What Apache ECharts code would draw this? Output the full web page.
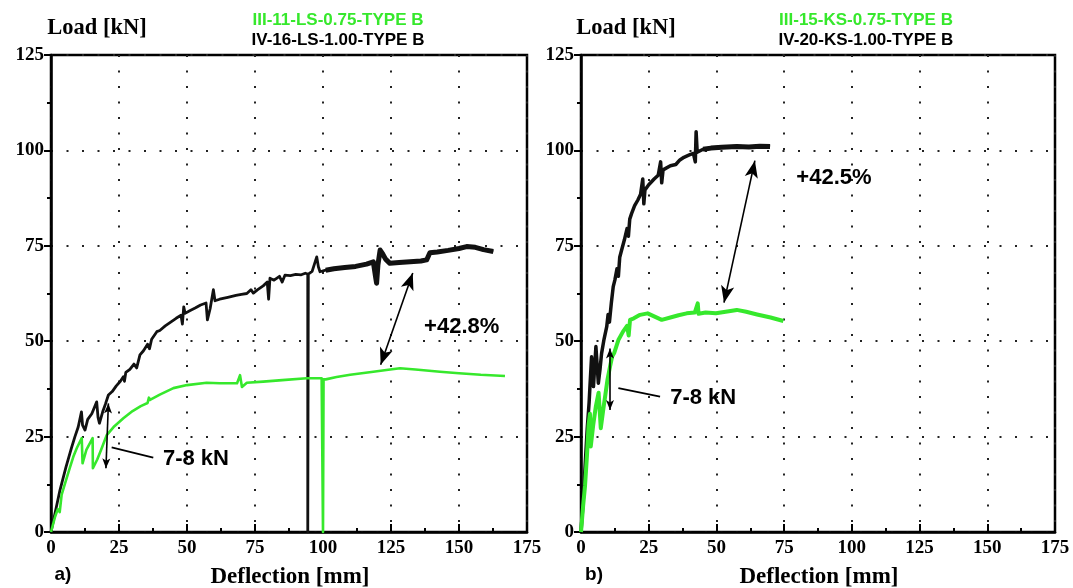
<!DOCTYPE html>
<html>
<head>
<meta charset="utf-8">
<script src="https://cdn.jsdelivr.net/npm/echarts@6/dist/echarts.min.js"></script>
<style>
  html, body { margin: 0; padding: 0; background: #fff; }
  #chart { width: 1073px; height: 588px; }
</style>
</head>
<body>
<div id="chart"></div>
<script>
// Load–deflection curves, [deflection mm, load kN]
const seriesNamesA = ['III-11-LS-0.75-TYPE B', 'IV-16-LS-1.00-TYPE B'];
const seriesNamesB = ['III-15-KS-0.75-TYPE B', 'IV-20-KS-1.00-TYPE B'];

const iv16 = [[0,0],[1.5,5],[3.3,11],[5.5,17],[7.5,22],[8.8,25],[10,27.5],[11.2,31.5],[11.6,28],[12.5,26.7],[13.5,29.5],[15,31],[16.8,34.1],[17.3,30],[17.8,28.5],[19,31.5],[20,33.5],[21.1,35.9],[22.5,36.8],[24,38.3],[25.5,39.5],[26.6,40.7],[27,39.5],[27.5,41.8],[29,42.6],[30.5,44],[31.5,43],[32.7,46.4],[34,47.5],[35.5,49.2],[36.2,48],[37,50.5],[38.9,52.5],[40,52.8],[42,54],[44,55],[46,56],[47.8,56.8],[48.3,54.5],[48.8,59],[49.3,57.3],[51,58],[53,58.7],[55,59.5],[57,60],[57.5,55.6],[58.5,58.5],[59.7,63.5],[60.3,60.6],[62,61],[65,61.5],[68,62],[70,62.3],[72,62.5],[73.5,63.5],[74.4,62.6],[76,63.5],[78,64.5],[79.5,65.5],[80,61],[80.5,66.5],[82,66],[84,67],[85,65.5],[86,67.3],[88,67.2],[90,67.5],[92,67.4],[93.5,67.8],[94.4,67.6],[94.4,0],[94.6,67.6],[96,68.3],[97.2,71],[97.7,72.1],[98.3,69.5],[98.9,68.2],[101,68.6],[104,69],[108,69.3],[112,69.6],[116,70.2],[118.5,70.8],[119.3,67],[119.7,65.2],[120.2,70],[121,73.9],[122,72.8],[123,71.5],[124.6,70.4],[128,70.6],[132,70.8],[136,71],[138.1,71.3],[139.3,73.2],[142,73.4],[146,73.8],[150,74.3],[152.8,74.8],[156,74.6],[159,74],[162.6,73.5]];

const iii11 = [[0,0],[1.5,4],[2.5,6],[3.2,5.2],[3.9,9.7],[5.5,13.5],[7,17],[8.2,19.7],[9.5,22],[11.3,24.6],[11.6,18],[13,21.5],[15.3,24.6],[15.4,16.7],[17,19],[18.5,21.7],[20.5,25.4],[23,27.5],[26.6,29.8],[28,30.6],[30,31.7],[33,33],[35.5,33.8],[36,35.2],[36.4,34.6],[40,36],[45,37.7],[50,38.5],[57.2,39.1],[62,39],[68.4,39],[69.2,40.5],[69.5,41.1],[70.2,38],[72,39.1],[78,39.4],[85,39.8],[94,40.3],[99.5,40.3],[100,0],[100.2,40],[101,40],[105,40.6],[110,41.2],[118.5,42],[124,42.5],[128.3,42.9],[134,42.6],[143,42],[150,41.6],[158,41.2],[166.9,40.9]];

const iv20 = [[0,0],[0.8,8],[1.5,17.1],[2.3,27],[3,34],[3.3,38.1],[3.9,45.9],[4.6,38.1],[5.5,48.6],[6.4,39],[7,42.5],[7.6,46.8],[8.5,50.5],[9.5,53.8],[10,57],[10.5,55],[11.2,60],[11.9,64.3],[12.5,66],[13.3,69],[13.8,67],[14.3,72],[15,73.9],[16,76.5],[17,79.5],[17.5,77.5],[18,82],[18.7,83.5],[19.8,85.5],[21,87],[22,88.5],[22.8,92.5],[23.2,86],[23.6,89.6],[25,91],[27,92.5],[28.5,93.5],[29.4,97],[29.8,91.5],[30.3,94.9],[33,96],[35,96.3],[36.5,97.5],[38,98.2],[40,98.8],[41.5,99.2],[42.2,97],[42.5,104.9],[42.9,99.5],[45.1,100.3],[48,100.6],[52,100.8],[57.5,101],[62,100.9],[66,101.1],[69.8,101]];

const iii15 = [[0,0],[0.8,7],[1.5,12.2],[2.2,20],[2.8,28],[3.3,31],[3.6,22.4],[4.5,28],[5.5,33],[6.5,36.5],[7.3,27.2],[8.2,32],[9,36],[9.8,40],[10.7,43.3],[11.5,46],[12.3,47],[13.8,50.3],[15.5,52.5],[17,54],[17.6,51.5],[18.1,55.6],[19.5,56],[21.8,56.9],[24.6,57.3],[27,56.5],[29.8,55.6],[33,56.2],[36,56.8],[39,57.3],[42,57.5],[43.1,59.9],[43.4,57.2],[46,57.5],[49.8,57.3],[54,57.8],[57.5,58.2],[61,57.7],[65,57],[70,56.2],[74.7,55.3]];

// Axis ranges and tick step
const xRange = [0, 175];
const yRange = [0, 125];
const tickStep = 25;

// Annotations: arrows and leaders in data units, plus text labels
const gainA = { text: '+42.8%', at: [151, 53.8], arrow: [[133, 67.9], [121.2, 43.8]] };
const dropA = { text: '7-8 kN', at: [53.3, 19.2], arrow: [[21.1, 33.7], [20.2, 16.7]], leader: [[22.3, 22.2], [37.6, 19.5]] };
const gainB = { text: '+42.5%', at: [93.4, 92.8], arrow: [[64.2, 97.3], [52.8, 60.1]] };
const dropB = { text: '7-8 kN', at: [45.1, 35.2], arrow: [[10.7, 48.1], [10.7, 32]], leader: [[13.8, 37.7], [29.2, 35.5]] };

const GREEN = '#36e82c';
const BLACK = '#111';
const serif = 'Liberation Serif';
const sans = 'Liberation Sans';

function xAxis(gridIndex) {
  return {
    type: 'value', gridIndex, min: xRange[0], max: xRange[1], interval: tickStep,
    axisLine: { show: true, onZero: false, lineStyle: { color: '#000', width: 2.5 } },
    axisTick: { show: true, inside: true, length: 8, lineStyle: { color: '#000', width: 2 } },
    minorTick: { show: true, splitNumber: 2, length: 4, lineStyle: { color: '#000', width: 2 } },
    axisLabel: { color: '#000', fontFamily: serif, fontWeight: 'bold', fontSize: 19, margin: 7 },
    splitLine: { show: true, lineStyle: { color: '#222', width: 2, type: [2, 13.5] } }
  };
}
function yAxis(gridIndex) {
  return {
    type: 'value', gridIndex, min: yRange[0], max: yRange[1], interval: tickStep,
    axisLine: { show: true, onZero: false, lineStyle: { color: '#000', width: 2.5 } },
    axisTick: { show: true, length: 7, lineStyle: { color: '#000', width: 2 } },
    minorTick: { show: true, splitNumber: 2, length: 4, lineStyle: { color: '#000', width: 2 } },
    axisLabel: { color: '#000', fontFamily: serif, fontWeight: 'bold', fontSize: 19, margin: 7 },
    splitLine: { show: true, lineStyle: { color: '#222', width: 2, type: [2, 13.5] } }
  };
}

function arrowLines(ann) {
  const size = ann.leader ? [6, 10] : [10, 17];
  const arrowEnd = (c) => ({ coord: c, symbol: 'arrow', symbolSize: size });
  const plainEnd = (c) => ({ coord: c, symbol: 'none' });
  const out = [[arrowEnd(ann.arrow[0]), arrowEnd(ann.arrow[1])]];
  if (ann.leader) {
    out.push([Object.assign(plainEnd(ann.leader[0]), { lineStyle: { width: 1.8 } }), plainEnd(ann.leader[1])]);
  }
  return out;
}
function textPoints(list) {
  return list.map(a => ({
    coord: a.at, symbol: 'circle', symbolSize: 0,
    label: { show: true, position: 'inside', formatter: a.text, color: '#000',
             fontFamily: sans, fontWeight: 'bold', fontSize: 22 }
  }));
}

function line(name, data, xi, color, width, z, extra) {
  return Object.assign({
    name, type: 'line', data, xAxisIndex: xi, yAxisIndex: xi,
    showSymbol: false, symbol: 'none', z,
    lineStyle: { color, width, join: 'round' }, animation: false, silent: true
  }, extra || {});
}

function marks(list) {
  return {
    markLine: {
      silent: true, animation: false, symbol: ['arrow', 'arrow'],
      label: { show: false }, lineStyle: { color: '#000', width: 1.6, type: 'solid' },
      data: list.reduce((acc, a) => acc.concat(arrowLines(a)), [])
    },
    markPoint: { silent: true, animation: false, data: textPoints(list) }
  };
}

function text(x, y, str, family, size, fill) {
  return { type: 'text', x, y, style: { text: str, fontFamily: family, fontWeight: 'bold', fontSize: size, fill, align: 'center', verticalAlign: 'middle' } };
}

const option = {
  animation: false,
  backgroundColor: '#fff',
  grid: [
    { left: 51, right: 1073 - 527, top: 55, bottom: 588 - 532, show: true, borderColor: '#000', borderWidth: 2.5, containLabel: false },
    { left: 581, right: 1073 - 1055, top: 55, bottom: 588 - 532, show: true, borderColor: '#000', borderWidth: 2.5, containLabel: false }
  ],
  xAxis: [xAxis(0), xAxis(1)],
  yAxis: [yAxis(0), yAxis(1)],
  series: [
    line(seriesNamesA[1], iv16, 0, BLACK, 2.8, 3, marks([gainA, dropA])),
    line(seriesNamesA[1] + ' band', iv16.filter(p => p[0] >= 99), 0, BLACK, 5, 3),
    line(seriesNamesA[0], iii11, 0, GREEN, 2.6, 4),
    line(seriesNamesB[1], iv20, 1, BLACK, 3.5, 3, marks([gainB, dropB])),
    line(seriesNamesB[1] + ' band', iv20.filter(p => p[0] >= 43), 1, BLACK, 5, 3),
    line(seriesNamesB[0], iii15, 1, GREEN, 4, 4)
  ],
  graphic: [
    text(97, 28, 'Load [kN]', serif, 22.5, '#000'),
    text(626, 28, 'Load [kN]', serif, 22.5, '#000'),
    text(338, 20, seriesNamesA[0], sans, 17, GREEN),
    text(338, 40, seriesNamesA[1], sans, 17, '#000'),
    text(866, 20, seriesNamesB[0], sans, 17, GREEN),
    text(866, 40, seriesNamesB[1], sans, 17, '#000'),
    text(290, 577, 'Deflection [mm]', serif, 23, '#000'),
    text(819, 577, 'Deflection [mm]', serif, 23, '#000'),
    text(63, 575, 'a)', sans, 19, '#000'),
    text(594, 575, 'b)', sans, 19, '#000')
  ]
};

const chart = echarts.init(document.getElementById('chart'), null, { renderer: 'canvas' });
chart.setOption(option);
</script>
</body>
</html>
